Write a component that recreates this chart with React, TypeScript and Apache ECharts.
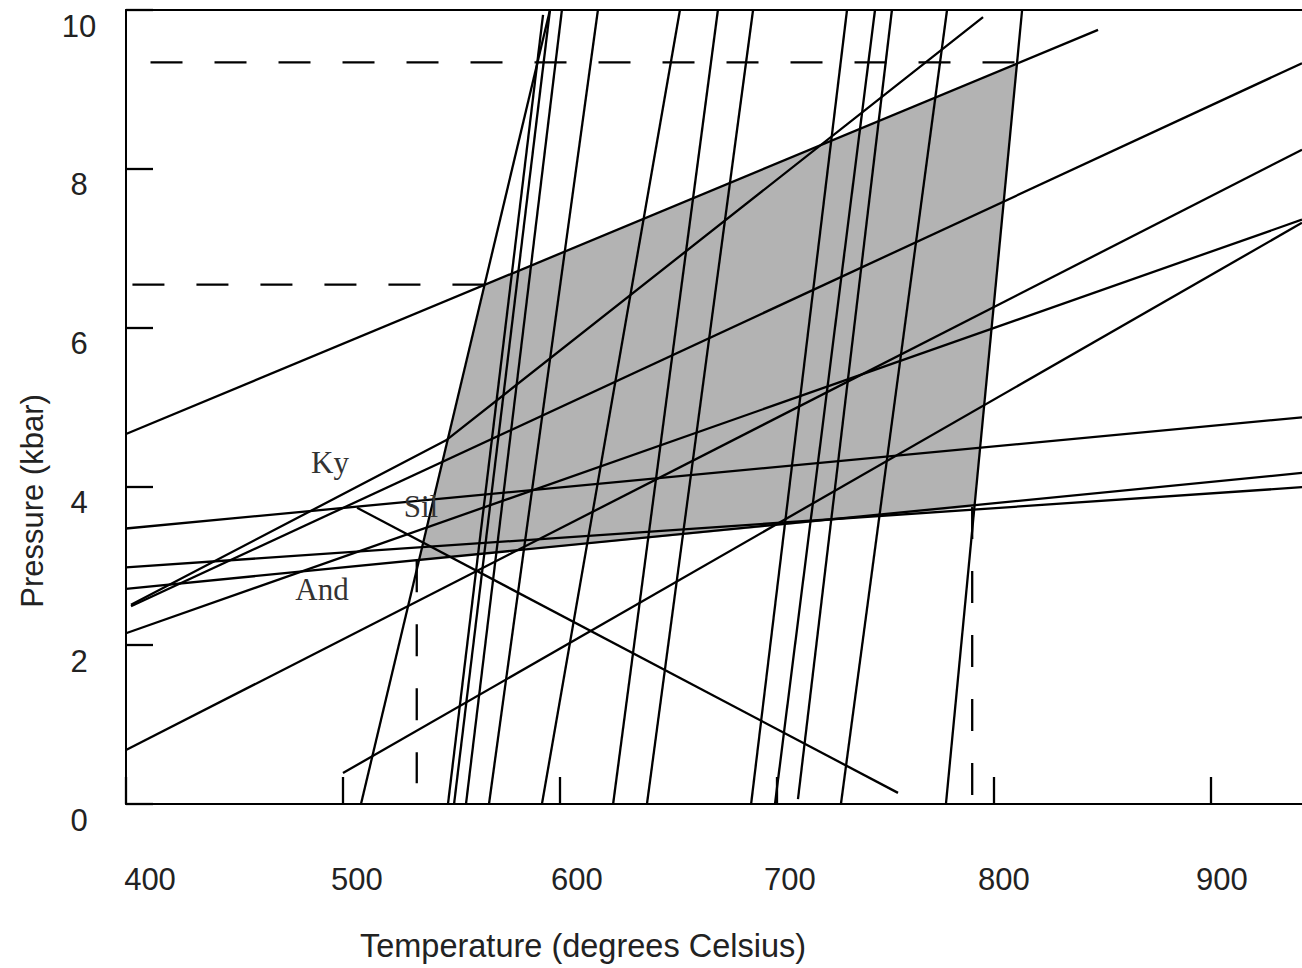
import React, { useEffect, useRef } from "react";
import * as echarts from "echarts";

// Axis ranges and tick labels
const xTickLabels = [400, 500, 600, 700, 800, 900];
const yTickLabels = [0, 2, 4, 6, 8, 10];
const xRange = [400, 942];
const yRange = [0, 10];

// Steep reaction lines: [T (°C), P (kbar)] end points
const steepLines: number[][][] = [
  [[508.3, 0], [595.4, 10]],
  [[548.4, 0], [592.2, 9.94]],
  [[551.2, 0], [595.4, 10]],
  [[556.7, 0], [600.9, 10]],
  [[567.3, 0], [617.5, 10]],
  [[591.7, 0], [655.3, 10]],
  [[624.5, 0], [672.8, 10]],
  [[640.1, 0], [689.0, 10]],
  [[688.1, 0], [732.3, 10]],
  [[699.1, 0], [745.2, 10]],
  [[709.7, 0.06], [753.0, 10]],
  [[729.5, 0], [778.4, 10]],
  [[777.9, 0], [813.0, 10]],
];

// Shallow reaction lines
const kyAndSil = [[402.3, 2.49], [942, 9.33]];
const andSil = [[506.5, 3.73], [755.8, 0.14]];
const upperLine = [[400, 4.66], [848, 9.75]];
const lineB = [[400, 0.68], [942, 8.24]];
const lineC = [[400, 2.15], [942, 7.36]];
const lineD = [[500, 0.39], [942, 7.32]];
const lineE = [[400, 3.47], [942, 4.87]];
const lineF = [[400, 2.71], [942, 4.17]];
const lineG = [[400, 2.98], [942, 3.99]];
const bentLine = [[402.3, 2.51], [547.5, 4.58], [795, 9.91]];

// Shaded P-T field corners
const fieldCorners = [[565.2, 6.54], [810.6, 9.32], [790.8, 3.74], [535.0, 3.07]];

// Dashed projection lines (start at the field corner)
const dashTop = [[809.5, 9.34], [411.0, 9.34]];
const dashMid = [[565.2, 6.54], [402.3, 6.54]];
const dashLeft = [[534.0, 3.07], [534.0, 0.26]];
const dashRight = [[790.0, 3.74], [790.0, 0.1]];

// Phase labels
const phaseLabels = [
  { text: "Ky", x: 330, y: 462 },
  { text: "Sil", x: 421, y: 506 },
  { text: "And", x: 322, y: 589 },
];

// Horizontal nudge (px) of each temperature label, as in the original figure
const xLabelShift: Record<number, number> = { 400: 24, 500: 14, 600: 17, 700: 13, 800: 10, 900: 11 };

const SANS = "'Liberation Sans', Arial, Helvetica, sans-serif";
const SERIF = "'Liberation Serif', 'Times New Roman', serif";
const LW = 2.3;

function solid(data: number[][]) {
  return {
    type: "line",
    data,
    symbol: "none",
    showSymbol: false,
    silent: true,
    z: 4,
    lineStyle: { color: "#000", width: LW },
    emphasis: { disabled: true },
  };
}

function dashed(data: number[][]) {
  return {
    type: "line",
    data,
    symbol: "none",
    showSymbol: false,
    silent: true,
    z: 3,
    lineStyle: { color: "#000", width: LW, type: [32, 32], cap: "butt" },
    emphasis: { disabled: true },
  };
}

export default function App() {
  const ref = useRef<HTMLDivElement>(null);

  useEffect(() => {
    if (!ref.current) return;
    const chart = echarts.init(ref.current, null, { renderer: "svg" });

    const xRich: Record<string, any> = {};
    xTickLabels.forEach((v) => {
      xRich["t" + v] = {
        fontSize: 31,
        fontFamily: SANS,
        color: "#222",
        padding: [0, 0, 0, xLabelShift[v] * 2],
      };
    });

    const series: any[] = [
      {
        type: "custom",
        coordinateSystem: "cartesian2d",
        data: [[600, 5]],
        silent: true,
        z: 1,
        renderItem: (_params: any, api: any) => ({
          type: "polygon",
          shape: { points: fieldCorners.map((c) => api.coord(c)) },
          style: { fill: "#b3b3b3", stroke: "none" },
        }),
      },
      dashed(dashTop),
      dashed(dashMid),
      dashed(dashLeft),
      dashed(dashRight),
      ...steepLines.map((l) => solid(l)),
      solid(kyAndSil),
      solid(andSil),
      solid(upperLine),
      solid(lineB),
      solid(lineC),
      solid(lineD),
      solid(lineE),
      solid(lineF),
      solid(lineG),
      solid(bentLine),
    ];

    const option: any = {
      animation: false,
      backgroundColor: "#fff",
      grid: {
        left: 126,
        top: 10,
        width: 1176,
        height: 794,
        containLabel: false,
        outerBoundsMode: "none",
      },
      xAxis: [
        {
          type: "value",
          min: xRange[0],
          max: xRange[1],
          interval: 100,
          axisLine: { show: true, onZero: false, lineStyle: { color: "#000", width: 2 } },
          axisTick: { show: true, inside: true, length: 27, lineStyle: { color: "#000", width: LW } },
          splitLine: { show: false },
          axisLabel: {
            show: true,
            showMaxLabel: false,
            margin: 60,
            fontSize: 31,
            fontFamily: SANS,
            color: "#222",
            rich: xRich,
            formatter: (v: number) => (xTickLabels.includes(v) ? `{t${v}|${v}}` : ""),
          },
        },
        {
          type: "value",
          position: "top",
          min: xRange[0],
          max: xRange[1],
          axisLine: { show: true, onZero: false, lineStyle: { color: "#000", width: 2 } },
          axisTick: { show: false },
          axisLabel: { show: false },
          splitLine: { show: false },
        },
      ],
      yAxis: {
        type: "value",
        min: yRange[0],
        max: yRange[1],
        interval: 2,
        axisLine: { show: true, onZero: false, lineStyle: { color: "#000", width: 2 } },
        axisTick: { show: true, inside: true, length: 27, lineStyle: { color: "#000", width: LW } },
        splitLine: { show: false },
        axisLabel: {
          show: true,
          margin: 47,
          align: "center",
          verticalAlign: "top",
          lineHeight: 32,
          fontSize: 31,
          fontFamily: SANS,
          color: "#222",
          formatter: (v: number) => (yTickLabels.includes(v) ? String(v) : ""),
        },
      },
      graphic: [
        {
          type: "text",
          x: 32,
          y: 501,
          rotation: Math.PI / 2,
          style: {
            text: "Pressure (kbar)",
            fontSize: 31,
            fontFamily: SANS,
            fill: "#222",
            align: "center",
            verticalAlign: "middle",
            textAlign: "center",
            textVerticalAlign: "middle",
          },
        },
        {
          type: "text",
          x: 583,
          y: 946,
          style: {
            text: "Temperature (degrees Celsius)",
            fontSize: 32.5,
            fontFamily: SANS,
            fill: "#222",
            align: "center",
            verticalAlign: "middle",
            textAlign: "center",
            textVerticalAlign: "middle",
          },
        },
        ...phaseLabels.map((p) => ({
          type: "text",
          x: p.x,
          y: p.y,
          z: 10,
          style: {
            text: p.text,
            fontSize: 31,
            fontFamily: SERIF,
            fill: "#333",
            align: "center",
            verticalAlign: "middle",
            textAlign: "center",
            textVerticalAlign: "middle",
          },
        })),
      ],
      series,
    };

    chart.setOption(option);
    return () => chart.dispose();
  }, []);

  return (
    <div
      ref={ref}
      style={{ position: "absolute", left: 0, top: 0, width: 1302, height: 968, background: "#fff" }}
    />
  );
}
